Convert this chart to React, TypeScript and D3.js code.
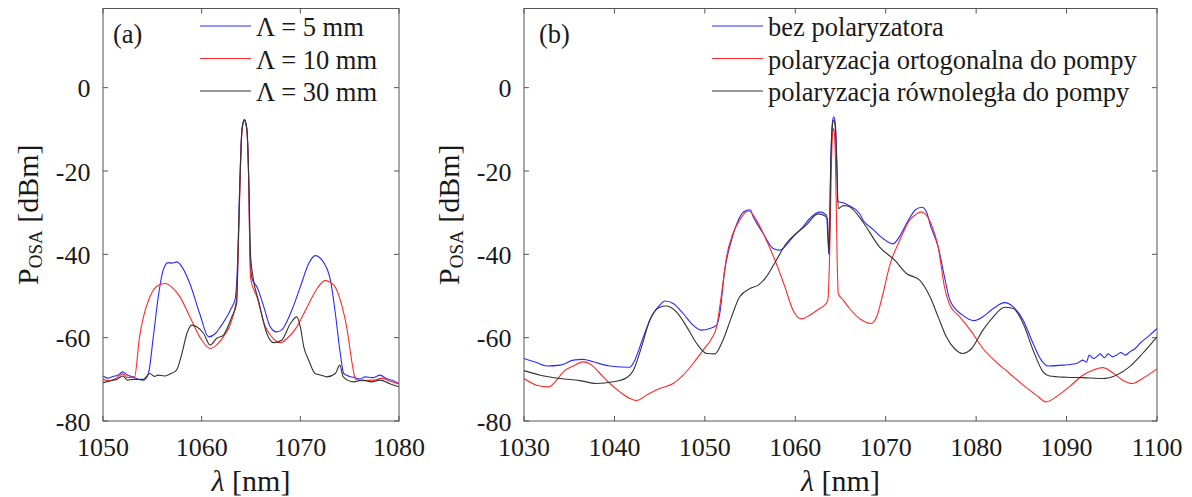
import React from "react";
import * as d3 from "d3";

type Pt = [number, number];

// ---------- Panel (a) data: [wavelength nm, power dBm] ----------
const A_LEGEND = ["Λ = 5 mm", "Λ = 10 mm", "Λ = 30 mm"];
const A_XTICKS = [1050, 1060, 1070, 1080];
const B_XTICKS = [1030, 1040, 1050, 1060, 1070, 1080, 1090, 1100];
const Y_TICKS = [-80, -60, -40, -20, 0];

const A_L5: Pt[] = [
  [1050, -69.2], [1050.5, -69.7], [1051, -69.3], [1051.5, -69.0], [1052, -68.2], [1052.4, -68.9],
  [1053, -69.4], [1053.5, -69.9], [1054.1, -70.2], [1054.6, -68.6], [1055.1, -59.8], [1055.6, -50.2],
  [1056.1, -43.8], [1056.6, -42.0], [1057.0, -42.1], [1057.5, -41.8], [1058, -43.0], [1058.8, -47.0],
  [1059.8, -54.2], [1060.7, -59.8], [1061.4, -59.0], [1061.9, -57.4], [1062.9, -53.4], [1063.4, -50.6],
  [1063.67, -40], [1063.85, -24], [1064.08, -10], [1064.33, -7.8], [1064.59, -10], [1064.78, -24],
  [1064.9, -40], [1065.1, -45.8], [1065.6, -47.8], [1066.3, -52.6], [1066.95, -57.4], [1067.6, -58.6],
  [1068.1, -58.2], [1069, -54.2], [1070, -47.8], [1070.85, -42.2], [1071.5, -40.3], [1072.2, -41.4],
  [1073.05, -46.2], [1073.55, -54.2], [1074.05, -63.8], [1074.4, -68.6], [1075.0, -69.3], [1075.4, -69.5],
  [1076, -69.9], [1076.6, -69.4], [1077.3, -69.6], [1078.1, -69.0], [1078.7, -69.8], [1079.3, -70.2],
  [1080, -71.0],
];
const A_L10: Pt[] = [
  [1050, -70.0], [1050.6, -70.3], [1051.2, -69.9], [1052, -68.7], [1052.5, -69.6], [1053.2, -69.4],
  [1053.7, -59.8], [1054.1, -55.0], [1054.75, -50.2], [1055.6, -47.4], [1056.3, -47.0], [1056.95, -47.8],
  [1057.8, -50.2], [1058.8, -55.0], [1059.8, -59.8], [1060.85, -62.6], [1061.5, -61.8], [1062.2, -59.8],
  [1063.05, -55.8], [1063.55, -50.2], [1063.7, -40], [1063.88, -24], [1064.1, -10], [1064.33, -8.0],
  [1064.57, -10], [1064.78, -24], [1064.88, -40], [1064.95, -45.8], [1065.6, -50.2], [1066.45, -57.4],
  [1067.1, -59.8], [1068, -61.2], [1068.65, -60.2], [1069.65, -57.4], [1070.7, -52.6], [1071.7, -48.2],
  [1072.5, -46.3], [1073.4, -47.4], [1074.05, -51.0], [1074.75, -58.2], [1075.25, -66.2], [1075.6, -70.0],
  [1076.3, -70.3], [1077.5, -70.2], [1078.3, -69.7], [1079.0, -70.4], [1080, -71.1],
];
const A_L30: Pt[] = [
  [1050, -70.8], [1050.7, -70.4], [1051.4, -70.0], [1052, -69.2], [1052.5, -70.2], [1053, -70.0],
  [1054.1, -70.0], [1054.75, -68.6], [1055.2, -69.3], [1055.6, -69.0], [1056.2, -69.2], [1056.8, -68.7],
  [1057.45, -67.8], [1058, -63.8], [1058.5, -59.0], [1059, -57.0], [1059.5, -57.4], [1060.2, -59.0],
  [1060.85, -61.8], [1061.5, -60.2], [1062.2, -59.4], [1063.05, -55.0], [1063.55, -51.8], [1063.68, -40],
  [1063.86, -24], [1064.09, -10], [1064.33, -7.6], [1064.58, -10], [1064.8, -24], [1064.95, -40],
  [1065.2, -45.4], [1065.75, -51.0], [1066.6, -59.0], [1067.3, -61.2], [1068.1, -60.6], [1069, -56.6],
  [1069.65, -55.0], [1070, -57.4], [1070.35, -62.2], [1070.85, -65.4], [1071.5, -68.6], [1072.1, -69.0],
  [1072.7, -69.4], [1073.55, -68.6], [1074, -66.6], [1074.35, -69.4], [1075.4, -70.6], [1076.3, -70.2],
  [1077.2, -70.6], [1078.1, -70.2], [1079, -71.0], [1080, -71.8],
];

// ---------- Panel (b) data ----------
const B_LEGEND = ["bez polaryzatora", "polaryzacja ortogonalna do pompy", "polaryzacja równoległa do pompy"];

const B_NONE: Pt[] = [
  [1030, -65.0], [1031.3, -65.9], [1032.5, -66.8], [1034, -66.6], [1035.45, -65.4], [1036.55, -65.2],
  [1037.65, -65.8], [1039.5, -66.8], [1041.7, -67.1], [1042.25, -65.4], [1043.2, -59.8], [1044.1, -55.0],
  [1045, -52.2], [1045.6, -51.2], [1046.5, -51.8], [1047.6, -54.2], [1048.7, -57.0], [1049.6, -58.2],
  [1050.55, -57.8], [1051.3, -57.0], [1051.65, -54.2], [1052.2, -43.8], [1052.95, -36.6], [1053.7, -31.8],
  [1054.3, -29.8], [1055.0, -29.3], [1055.35, -31.0], [1056.45, -35.0], [1057.55, -38.6], [1058.3, -39.0],
  [1059, -37.8], [1059.75, -35.8], [1060.85, -33.4], [1061.6, -31.4], [1062.7, -29.8], [1063.45, -30.6],
  [1063.72, -40], [1063.92, -18], [1064.1, -8.5], [1064.25, -7.0], [1064.42, -8.5], [1064.6, -18],
  [1064.7, -27.4], [1065.3, -27.6], [1065.85, -28.2], [1067.1, -30.2], [1067.5, -31.8], [1068.6, -34.0],
  [1069.7, -36.2], [1070.8, -37.5], [1071.5, -35.8], [1072.5, -31.8], [1073.3, -29.3], [1074.0, -28.7],
  [1074.5, -29.8], [1075, -33.4], [1075.8, -38.2], [1076.5, -45.4], [1077.1, -51.0], [1078.5, -54.6],
  [1079.8, -55.9], [1080.75, -55.0], [1081.9, -53.0], [1083.15, -51.6], [1084.1, -52.6], [1085.2, -55.8],
  [1086.3, -61.4], [1087.2, -65.4], [1087.95, -66.8], [1089.6, -66.6], [1091.1, -66.2], [1091.8, -65.4],
  [1092.2, -65.9], [1092.5, -64.2], [1093.0, -65.0], [1093.3, -64.6], [1093.7, -63.9], [1094.2, -64.8],
  [1094.6, -63.9], [1095.1, -64.6], [1095.5, -64.2], [1096.0, -63.6], [1096.5, -64.2], [1097, -63.4],
  [1097.6, -62.6], [1098.1, -61.4], [1099.2, -59.4], [1100, -57.8],
];
const B_ORTH: Pt[] = [
  [1030, -69.8], [1031.4, -71.4], [1032.7, -71.8], [1033.6, -70.2], [1034.35, -68.2], [1035.45, -66.8],
  [1036.55, -65.8], [1037.5, -66.6], [1038.4, -68.6], [1039.5, -71.0], [1040.6, -73.0], [1041.7, -74.6],
  [1042.45, -75.1], [1043.55, -73.8], [1045, -72.2], [1046.5, -71.0], [1047.6, -69.0], [1048.7, -66.2],
  [1049.8, -63.0], [1050.75, -60.2], [1051.3, -57.4], [1051.85, -49.4], [1052.4, -40.6], [1053.1, -35.0],
  [1053.85, -31.8], [1054.5, -29.9], [1054.9, -29.6], [1055.7, -31.8], [1056.8, -36.6], [1057.9, -42.2],
  [1058.85, -47.8], [1059.75, -53.4], [1060.7, -55.5], [1061.6, -54.6], [1062.7, -53.0], [1063.25, -52.2],
  [1063.6, -51.0], [1063.8, -40], [1064.0, -18], [1064.12, -11], [1064.22, -9.8], [1064.33, -11],
  [1064.45, -18], [1064.62, -40], [1064.75, -49.4], [1065.3, -51.0], [1066, -53.0], [1067.1, -55.4],
  [1068.4, -56.6], [1069, -55.0], [1069.7, -49.4], [1070.4, -43.0], [1071.55, -36.6], [1072.65, -31.8],
  [1073.4, -30.3], [1073.9, -29.8], [1074.5, -30.6], [1075, -32.6], [1075.8, -38.2], [1076.5, -47.8],
  [1077.1, -52.2], [1078.2, -55.0], [1079.5, -58.6], [1080.75, -62.6], [1082.2, -65.8], [1083.7, -68.6],
  [1085.2, -71.4], [1086.65, -73.8], [1087.75, -75.4], [1088.85, -74.2], [1090.3, -71.8], [1091.8, -69.0],
  [1092.9, -67.8], [1094, -67.2], [1095.1, -68.4], [1096.2, -70.2], [1097.3, -71.0], [1098.4, -69.8],
  [1100, -67.5],
];
const B_PARA: Pt[] = [
  [1030, -67.9], [1031.8, -69.0], [1034, -69.8], [1036.2, -70.3], [1038, -71.0], [1039.85, -70.6],
  [1041.35, -69.6], [1042.1, -67.8], [1043, -62.2], [1043.9, -55.8], [1045, -52.7], [1045.75, -52.4],
  [1046.85, -53.8], [1048, -57.4], [1049.1, -61.4], [1050.2, -63.8], [1051.1, -63.9], [1052, -60.6],
  [1052.95, -55.0], [1053.85, -50.2], [1055, -48.2], [1055.9, -47.4], [1056.8, -45.4], [1057.9, -41.4],
  [1059, -37.4], [1060.1, -35.0], [1061.2, -33.0], [1062.5, -30.3], [1063.3, -30.8], [1063.55, -31.5],
  [1063.74, -40], [1063.93, -18], [1064.1, -9.2], [1064.25, -7.8], [1064.41, -9.2], [1064.58, -18],
  [1064.75, -29.0], [1065.3, -28.3], [1065.8, -28.4], [1066.5, -29.5], [1067.5, -32.3], [1069.3, -38.2],
  [1071, -41.4], [1072.3, -44.6], [1073.75, -46.2], [1074.9, -50.2], [1075.8, -55.0], [1076.7, -59.8],
  [1077.6, -62.6], [1078.5, -63.8], [1079.5, -62.6], [1080.75, -58.2], [1081.9, -55.0], [1083.15, -52.7],
  [1084.1, -53.0], [1085.2, -56.6], [1086.3, -63.0], [1087.4, -68.2], [1088.1, -69.2], [1090, -69.5],
  [1091.8, -69.6], [1094, -69.8], [1095.5, -69.0], [1096.95, -67.0], [1098.4, -63.8], [1100, -59.8],
];

const COLORS = ["#2a2aff", "#ff2a2a", "#333333"];
const FONT = "Liberation Serif, DejaVu Serif, serif";
const TXT = "#1a1a1a";
const AXC = "#555";

const Y0 = 421;
const Y1 = 8.5;

const tickStyle: React.CSSProperties = { fontFamily: FONT, fontSize: "26px" };
const legStyle: React.CSSProperties = { fontFamily: FONT, fontSize: "26.5px" };
const labStyle: React.CSSProperties = { fontFamily: FONT, fontSize: "30px" };

interface PanelProps {
  id: string;
  x0: number;
  x1: number;
  domain: [number, number];
  xticks: number[];
  series: Pt[][];
  legend: string[];
  legendX: number;
  tag: string;
  tagX: number;
}

function Panel({ id, x0, x1, domain, xticks, series, legend, legendX, tag, tagX }: PanelProps) {
  const x = d3.scaleLinear().domain(domain).range([x0, x1]);
  const y = d3.scaleLinear().domain([-80, 19]).range([Y0, Y1]);
  const line = d3
    .line<Pt>()
    .x((d) => x(d[0]))
    .y((d) => y(d[1]))
    .curve(d3.curveMonotoneX);
  const tl = 5;
  const cx = (x0 + x1) / 2;
  const cy = (Y0 + Y1) / 2;
  return (
    <g>
      <defs>
        <clipPath id={`clip-${id}`}>
          <rect x={x0} y={Y1} width={x1 - x0} height={Y0 - Y1} />
        </clipPath>
      </defs>
      <g clipPath={`url(#clip-${id})`}>
        {series.map((s, i) => (
          <path key={i} d={line(s) || ""} fill="none" stroke={COLORS[i]} strokeWidth={1.1} strokeLinejoin="round" />
        ))}
      </g>
      <rect x={x0} y={Y1} width={x1 - x0} height={Y0 - Y1} fill="none" stroke={AXC} strokeWidth={1} />
      {xticks.map((t) => (
        <g key={`xt${t}`}>
          <line x1={x(t)} x2={x(t)} y1={Y0} y2={Y0 - tl} stroke={AXC} />
          <line x1={x(t)} x2={x(t)} y1={Y1} y2={Y1 + tl} stroke={AXC} />
          <text x={x(t)} y={456} textAnchor="middle" style={tickStyle} fill={TXT}>
            {t}
          </text>
        </g>
      ))}
      {Y_TICKS.map((t) => (
        <g key={`yt${t}`}>
          <line x1={x0} x2={x0 + tl} y1={y(t)} y2={y(t)} stroke={AXC} />
          <line x1={x1} x2={x1 - tl} y1={y(t)} y2={y(t)} stroke={AXC} />
          <text x={x0 - 12.5} y={y(t) + 9.5} textAnchor="end" style={tickStyle} fill={TXT}>
            {t}
          </text>
        </g>
      ))}
      <text x={cx} y={491} textAnchor="middle" style={labStyle} fill={TXT}>
        <tspan fontStyle="italic">λ</tspan> [nm]
      </text>
      <text transform={`translate(${x0 - 65},${cy}) rotate(-90)`} textAnchor="middle" style={labStyle} fill={TXT}>
        P<tspan style={{ fontSize: "19px" }} dy={4}>OSA</tspan>
        <tspan dy={-4}> [dBm]</tspan>
      </text>
      <text x={tagX} y={43} style={legStyle} fill={TXT}>
        {tag}
      </text>
      {legend.map((l, i) => {
        const ly = 26 + i * 32.5;
        return (
          <g key={`lg${i}`}>
            <line x1={legendX} x2={legendX + 51} y1={ly} y2={ly} stroke={COLORS[i]} strokeWidth={1.1} />
            <text x={legendX + 56} y={ly + 10} style={legStyle} fill={TXT}>
              {l}
            </text>
          </g>
        );
      })}
    </g>
  );
}

export default function App() {
  return (
    <svg
      width={1192}
      height={497}
      viewBox="0 0 1192 497"
      style={{ position: "absolute", left: 0, top: 0, background: "#fff" }}
    >
      <rect x={0} y={0} width={1192} height={497} fill="#fff" />
      <Panel
        id="a"
        x0={103}
        x1={399}
        domain={[1050, 1080]}
        xticks={A_XTICKS}
        series={[A_L5, A_L10, A_L30]}
        legend={A_LEGEND}
        legendX={200}
        tag="(a)"
        tagX={113}
      />
      <Panel
        id="b"
        x0={524}
        x1={1157}
        domain={[1030, 1100]}
        xticks={B_XTICKS}
        series={[B_NONE, B_ORTH, B_PARA]}
        legend={B_LEGEND}
        legendX={712}
        tag="(b)"
        tagX={539}
      />
    </svg>
  );
}
